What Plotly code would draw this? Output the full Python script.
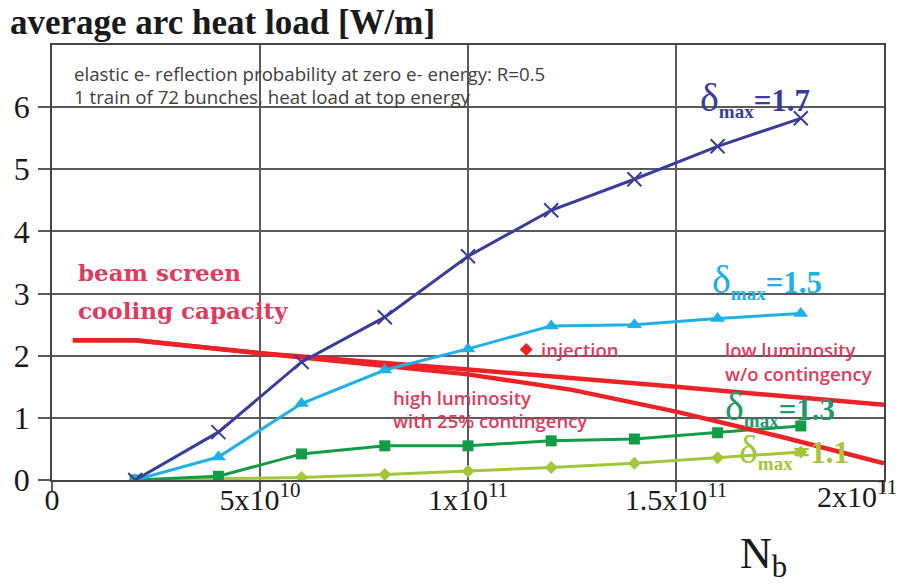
import plotly.graph_objects as go

# ---------------- data ----------------
nb = [2e10, 4e10, 6e10, 8e10, 1e11, 1.2e11, 1.4e11, 1.6e11, 1.8e11]
d17 = [0.0, 0.77, 1.90, 2.62, 3.60, 4.34, 4.84, 5.37, 5.82]
d15 = [0.0, 0.37, 1.23, 1.77, 2.11, 2.48, 2.50, 2.60, 2.68]
d13 = [0.0, 0.06, 0.42, 0.55, 0.55, 0.63, 0.66, 0.76, 0.87]
d11 = [0.0, 0.02, 0.04, 0.09, 0.14, 0.20, 0.27, 0.36, 0.45]

low_x = [0.5e10, 2e10, 5e10, 7e10, 1e11, 1.5e11, 2e11]
low_y = [2.25, 2.25, 2.04, 1.94, 1.78, 1.50, 1.21]
high_x = [0.5e10, 2e10, 5e10, 7e10, 1e11, 1.25e11, 1.5e11, 1.75e11, 2e11]
high_y = [2.25, 2.25, 2.04, 1.90, 1.70, 1.45, 1.10, 0.70, 0.27]

inj_x = [1.14e11]
inj_y = [2.10]

x_tickvals = [0, 5e10, 1e11, 1.5e11, 2e11]
x_ticktext = ["0", "5x10<sup>10</sup>", "1x10<sup>11</sup>", "1.5x10<sup>11</sup>", ""]
x_last_label = "2x10<sup>11</sup>"
y_tickvals = [0, 1, 2, 3, 4, 5, 6]

# ---------------- colours ----------------
C17 = "#3a3c9a"
C15 = "#1eb0e6"
C13 = "#129c45"
C13T = "#1f9a6e"
C11 = "#a3c63b"
RED = "#ec2227"
PINK = "#e03a5c"

# plot area in pixels
W, H = 901, 585
L, R, T, B = 52, 884, 45, 480


def px(x, y):
    return (x - L) / (R - L), (B - y) / (B - T)


fig = go.Figure()

fig.add_trace(go.Scatter(x=nb, y=d11, mode="lines+markers",
                         line=dict(color=C11, width=3),
                         marker=dict(symbol="diamond", size=10, color=C11)))
fig.add_trace(go.Scatter(x=nb, y=d13, mode="lines+markers",
                         line=dict(color=C13, width=3),
                         marker=dict(symbol="square", size=11, color=C13)))
fig.add_trace(go.Scatter(x=low_x, y=low_y, mode="lines",
                         line=dict(color=RED, width=4.5)))
fig.add_trace(go.Scatter(x=high_x, y=high_y, mode="lines",
                         line=dict(color=RED, width=4.5)))
fig.add_trace(go.Scatter(x=nb, y=d15, mode="lines+markers",
                         line=dict(color=C15, width=3),
                         marker=dict(symbol="triangle-up", size=13, color=C15)))
fig.add_trace(go.Scatter(x=nb, y=d17, mode="lines+markers",
                         line=dict(color=C17, width=3),
                         marker=dict(symbol="x-thin", size=14, color=C17,
                                     line=dict(color=C17, width=2))))
fig.add_trace(go.Scatter(x=inj_x, y=inj_y, mode="markers",
                         marker=dict(symbol="diamond", size=10, color=RED)))

annots = []


def add_text(x, y, text, size, color, family, xanchor="left", yanchor="middle", weight=None):
    xp, yp = px(x, y)
    font = dict(size=size, color=color, family=family)
    if weight is not None:
        font["weight"] = weight
    annots.append(dict(x=xp, y=yp, xref="paper", yref="paper", text=text,
                       showarrow=False, xanchor=xanchor, yanchor=yanchor,
                       font=font))


SERIF = "Liberation Serif"
SANS = "Open Sans"

add_text(8, 22, "<b>average arc heat load [W/m]</b>", 35, "#1a1a1a", SERIF)
add_text(72, 73, "elastic e- reflection probability at zero e- energy: R=0.5", 18.7, "#404040", SANS)
add_text(72, 96, "1 train of 72 bunches, heat load at top energy", 18.7, "#404040", SANS)

add_text(76, 272, "<b>beam screen</b>", 23, PINK, "DejaVu Serif")
add_text(76, 310, "<b>cooling capacity</b>", 23, PINK, "DejaVu Serif")

add_text(539, 350, "injection", 18.5, PINK, SANS, weight=600)
add_text(723, 349, "low luminosity", 18.5, PINK, SANS, weight=600)
add_text(723, 373, "w/o contingency", 18.5, PINK, SANS, weight=600)
add_text(391, 397, "high luminosity", 18.5, PINK, SANS, weight=600)
add_text(391, 420, "with 25% contingency", 18.5, PINK, SANS, weight=600)


def delta_label(val):
    return ("<span style='font-size:40px'>δ</span>"
            "<sub><span style='font-size:19px'><b>max</b></span></sub><b>=" + val + "</b>")


add_text(698, 98, delta_label("1.7"), 31, C17, SERIF)
add_text(710, 280, delta_label("1.5"), 31, C15, SERIF)
add_text(723, 407, delta_label("1.3"), 31, C13T, SERIF)
add_text(737, 450, delta_label("1.1"), 31, C11, SERIF)

add_text(738, 556, "N<sub>b</sub>", 44, "#1a1a1a", SERIF)

# last x tick label (kept inside the page like the reference)
add_text(899, 494, x_last_label, 30, "#1a1a1a", SERIF, xanchor="right")

fig.update_layout(
    width=W, height=H,
    margin=dict(l=L, r=W - R, t=T, b=H - B, pad=0),
    paper_bgcolor="white", plot_bgcolor="white",
    showlegend=False,
    annotations=annots,
    xaxis=dict(range=[0, 2e11], tickvals=x_tickvals, ticktext=x_ticktext,
               showgrid=True, gridcolor="#5a5a5a", gridwidth=1.5,
               showline=True, linecolor="#444", linewidth=1.5, mirror=True,
               ticks="outside", ticklen=10, tickcolor="#5a5a5a", tickwidth=1.5,
               tickfont=dict(family=SERIF, size=30, color="#1a1a1a"),
               ticklabelstandoff=-18,
               zeroline=False, fixedrange=True),
    yaxis=dict(range=[0, 7], tickvals=y_tickvals,
               showgrid=True, gridcolor="#5a5a5a", gridwidth=1.5,
               showline=True, linecolor="#444", linewidth=1.5, mirror=True,
               ticks="outside", ticklen=12, tickcolor="#5a5a5a", tickwidth=1.5,
               tickfont=dict(family=SERIF, size=32, color="#1a1a1a"),
               ticklabelstandoff=2,
               zeroline=False, fixedrange=True),
)

fig.write_html("out.html")
